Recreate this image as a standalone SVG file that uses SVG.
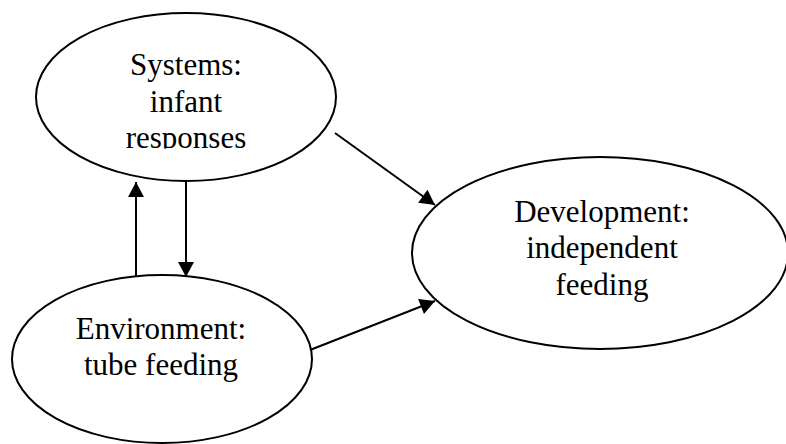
<svg xmlns="http://www.w3.org/2000/svg" width="786" height="444" viewBox="0 0 786 444">
<style>
.node ellipse{fill:#fff;stroke:#000;stroke-width:2}
.node text{font-family:"Liberation Serif","Times New Roman",serif;font-size:31px;fill:#000;text-anchor:middle}
.edge{stroke:#000;stroke-width:2;fill:none;marker-end:url(#ah)}
</style>
<defs>
<marker id="ah" markerUnits="userSpaceOnUse" markerWidth="16" markerHeight="16" viewBox="0 0 15 16" refX="15" refY="8" orient="auto">
<path d="M0,0 L15,8 L0,16 Z" fill="#000"/>
</marker>
<clipPath id="c1"><rect x="0" y="0" width="400" height="148.5"/></clipPath>
</defs>
<g id="systems" class="node">
<ellipse cx="186" cy="97" rx="150" ry="84"/>
<g clip-path="url(#c1)">
<text x="186" y="75">Systems:</text>
<text x="186" y="112">infant</text>
<text x="186" y="148">responses</text>
</g>
</g>
<g id="development" class="node">
<ellipse cx="600" cy="253" rx="188" ry="96"/>
<text x="602" y="222">Development:</text>
<text x="602" y="258">independent</text>
<text x="602" y="295">feeding</text>
</g>
<g id="environment" class="node">
<ellipse cx="162" cy="359" rx="150" ry="84"/>
<text x="161" y="339">Environment:</text>
<text x="161" y="375">tube feeding</text>
</g>
<g id="connectors">
<line class="edge" x1="136" y1="277" x2="136" y2="182"/>
<line class="edge" x1="186" y1="181" x2="186" y2="277"/>
<line class="edge" x1="335" y1="133" x2="435" y2="205"/>
<line class="edge" x1="310" y1="350" x2="435" y2="301"/>
</g>
</svg>
